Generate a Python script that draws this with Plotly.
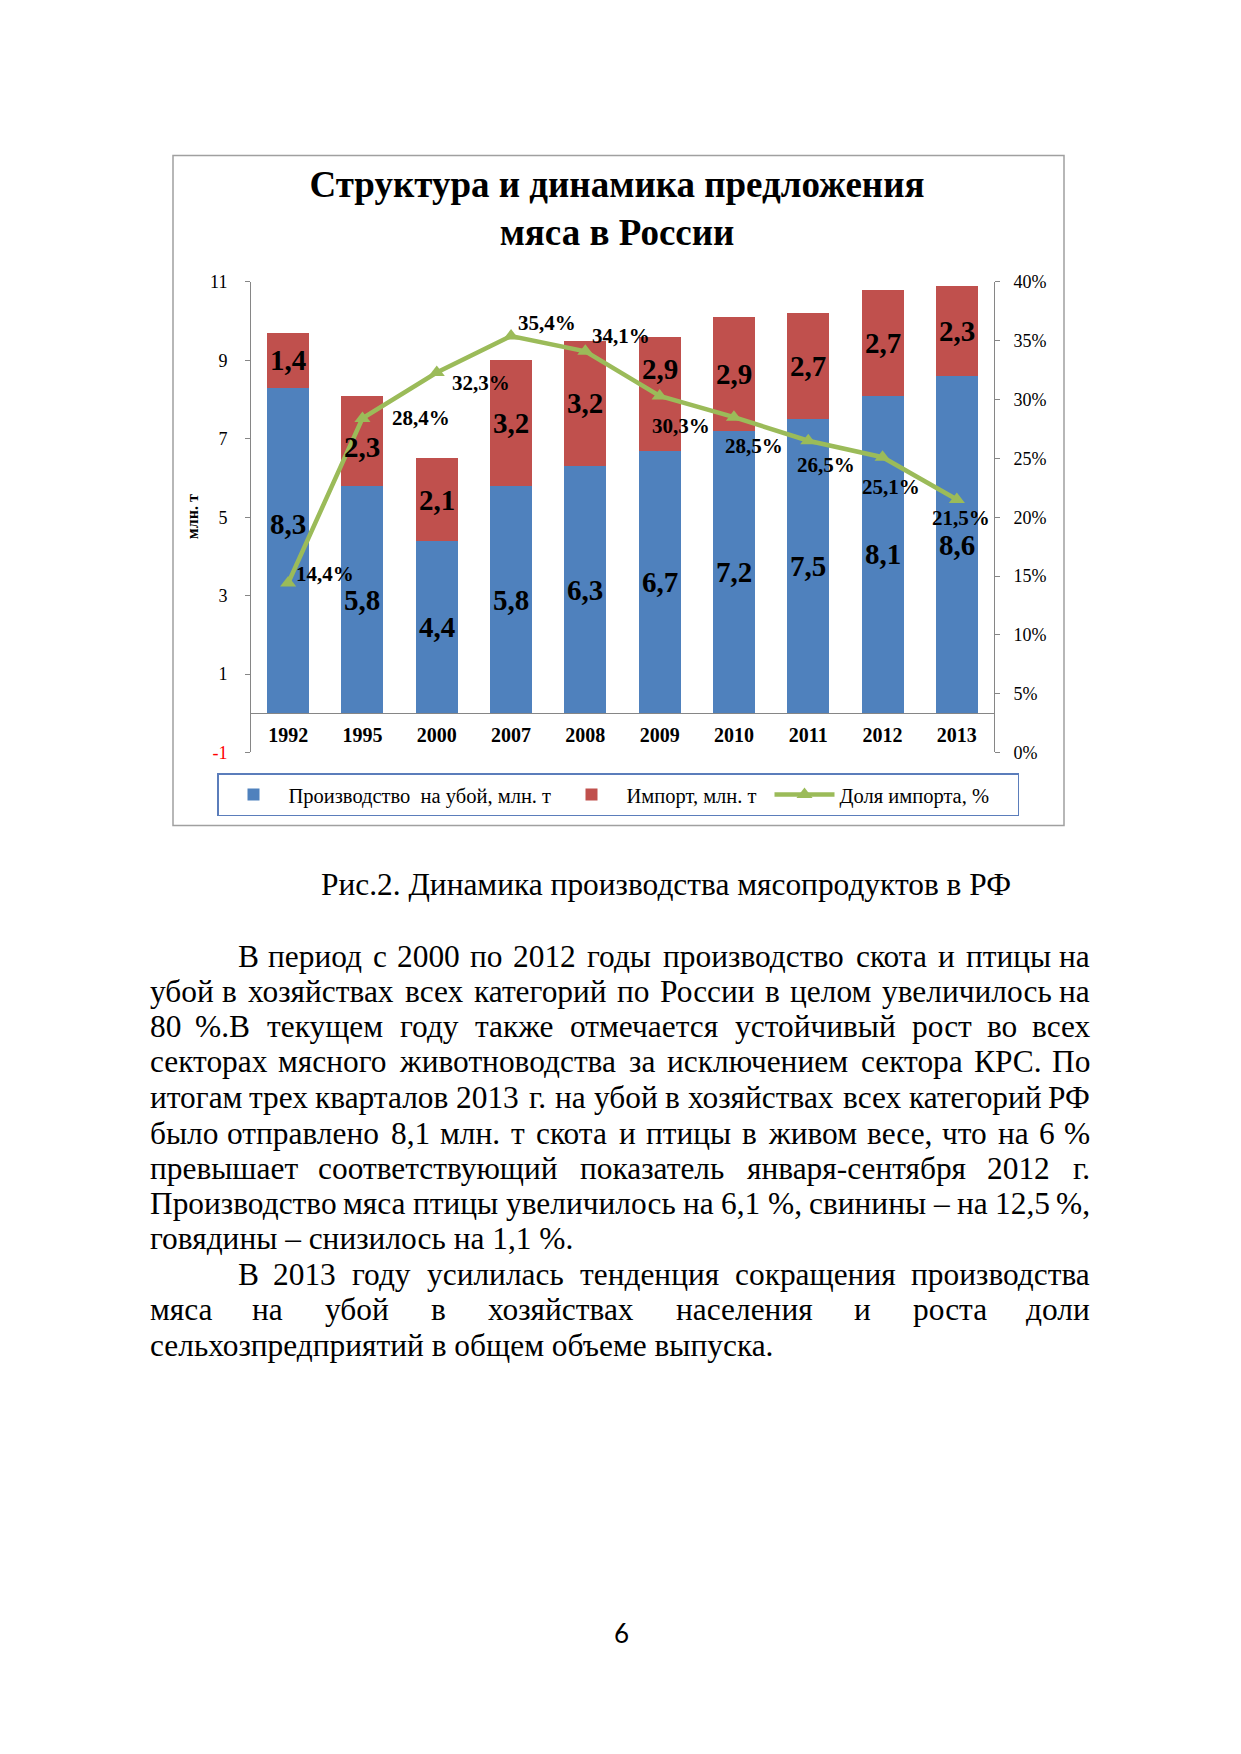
import plotly.graph_objects as go

# ---------------- data ----------------
years = ["1992", "1995", "2000", "2007", "2008", "2009", "2010", "2011", "2012", "2013"]
production = [8.3, 5.8, 4.4, 5.8, 6.3, 6.7, 7.2, 7.5, 8.1, 8.6]
imports = [1.4, 2.3, 2.1, 3.2, 3.2, 2.9, 2.9, 2.7, 2.7, 2.3]
import_share = [14.4, 28.4, 32.3, 35.4, 34.1, 30.3, 28.5, 26.5, 25.1, 21.5]
left_ticks = [-1, 1, 3, 5, 7, 9, 11]
right_ticks = [0, 5, 10, 15, 20, 25, 30, 35, 40]

series_names = ["Производство  на убой, млн. т", "Импорт, млн. т", "Доля импорта, %"]
chart_title = "Структура и динамика предложения<br>мяса в России"
y_title = "млн. т"
caption = "Рис.2. Динамика производства мясопродуктов в РФ"
body_lines = [
    "В период с 2000 по 2012 годы производство скота и птицы на",
    "убой в хозяйствах всех категорий по России в целом увеличилось на",
    "80 %.В текущем году также отмечается устойчивый рост во всех",
    "секторах мясного животноводства за исключением сектора КРС. По",
    "итогам трех кварталов 2013 г. на убой в хозяйствах всех категорий РФ",
    "было отправлено 8,1 млн. т скота и птицы в живом весе, что на 6 %",
    "превышает соответствующий показатель января-сентября 2012 г.",
    "Производство мяса птицы увеличилось на 6,1 %, свинины – на 12,5 %,",
    "говядины – снизилось на 1,1 %.",
    "В 2013 году усилилась тенденция сокращения производства",
    "мяса на убой в хозяйствах населения и роста доли",
    "сельхозпредприятий в общем объеме выпуска.",
]
page_number = "6"

# ---------------- layout / style ----------------
PAGE_W, PAGE_H = 1241, 1754
BODY_MARGIN = 8  # default browser body margin
FIG_W, FIG_H = PAGE_W - 2 * BODY_MARGIN, PAGE_H - 2 * BODY_MARGIN
SERIF = "Liberation Serif, Times New Roman, serif"
BLUE, RED, GREEN = "#4F81BD", "#C0504D", "#9BBB59"
AXIS_GRAY = "#868686"


def px(x):
    return (x - BODY_MARGIN) / FIG_W


def py(y):
    return 1 - (y - BODY_MARGIN) / FIG_H


# plot area in page pixels
PX0, PX1 = 251, 994
PY_TOP, PY_BOT = 275, 751
Y_MIN, Y_MAX = -1, 11
zero_pos = py(PY_BOT) + (py(PY_TOP) - py(PY_BOT)) * (0 - Y_MIN) / (Y_MAX - Y_MIN)


def fmt(v, suffix=""):
    return f"{v:.1f}".replace(".", ",") + suffix


fig = go.Figure()
fig.add_trace(go.Bar(x=years, y=production, name=series_names[0], marker=dict(color=BLUE, line=dict(width=0)),
                     legendwidth=263))
fig.add_trace(go.Bar(x=years, y=imports, name=series_names[1], marker=dict(color=RED, line=dict(width=0)),
                     legendwidth=138))
fig.add_trace(go.Scatter(
    x=years, y=import_share, name=series_names[2], yaxis="y2", mode="lines+markers",
    line=dict(color=GREEN, width=4.5),
    marker=dict(symbol="triangle-up", size=14, color=GREEN),
    legendwidth=173,
))

annotations = []

# bar value labels (centred in segments); x given as category index
prod_shift = [27, 0, 0, 0, 0, 0, 0, 0, 0, 0]
imp_shift = [0, -6, 0, 0, 0, 25, 0, 0, 0, 0]
bar_font = dict(family=SERIF, size=29, color="black")
for i in range(len(years)):
    annotations.append(dict(x=i, y=production[i] / 2, xref="x", yref="y", text="<b>" + fmt(production[i]) + "</b>",
                            showarrow=False, font=bar_font, yshift=prod_shift[i], xanchor="center", yanchor="middle"))
    annotations.append(dict(x=i, y=production[i] + imports[i] / 2, xref="x", yref="y",
                            text="<b>" + fmt(imports[i]) + "</b>", showarrow=False, font=bar_font,
                            yshift=imp_shift[i], xanchor="center", yanchor="middle"))

# share labels
share_dx = [37, 59, 44, 36, 36, 21, 20, 18, 8, 4]
share_dy = [9, 0, -10, 13, 15, -30, -29, -24, -30, -18]
for i in range(len(years)):
    annotations.append(dict(x=i, y=import_share[i], xref="x", yref="y2", text="<b>" + fmt(import_share[i], "%") + "</b>",
                            showarrow=False, font=dict(family=SERIF, size=21, color="black"),
                            xshift=share_dx[i], yshift=share_dy[i], xanchor="center", yanchor="middle"))

# y axis title
annotations.append(dict(x=px(192), y=py(513), xref="paper", yref="paper", text="<b>" + y_title + "</b>",
                        textangle=-90, showarrow=False, xanchor="center", yanchor="middle",
                        font=dict(family=SERIF, size=16, color="black")))

# ---------------- page text ----------------
CHAR_W = {
    " ": 250, ",": 250, ".": 250, "%": 833, "–": 500, "-": 333,
    "а": 444, "б": 508, "в": 472, "г": 410, "д": 509, "е": 444, "ё": 444, "ж": 691, "з": 395, "и": 535,
    "й": 535, "к": 486, "л": 499, "м": 633, "н": 535, "о": 500, "п": 535, "р": 500, "с": 444, "т": 437,
    "у": 500, "ф": 648, "х": 500, "ц": 535, "ч": 503, "ш": 770, "щ": 770, "ъ": 517, "ы": 672, "ь": 456,
    "э": 429, "ю": 747, "я": 460,
    "В": 667, "П": 722, "К": 667, "Р": 556, "С": 667, "Ф": 757, "Т": 611, "Д": 682, "А": 722,
}
BODY_SIZE = 31.4
body_font = dict(family=SERIF, size=BODY_SIZE, color="black")


def tw(s):
    return sum(CHAR_W.get(c, 500) for c in s) / 1000 * BODY_SIZE


def place_line(text, y, left, right, justify):
    if not justify:
        annotations.append(dict(x=px(left), y=py(y), xref="paper", yref="paper", text=text, showarrow=False,
                                xanchor="left", yanchor="middle", font=body_font))
        return
    words = text.split(" ")
    widths = [tw(w) for w in words]
    gap = (right - left - sum(widths)) / (len(words) - 1)
    x = left
    for k, (wd, wi) in enumerate(zip(words, widths)):
        if k == 0:
            ax, anch = x, "left"
        elif k == len(words) - 1:
            ax, anch = right, "right"
        else:
            ax, anch = x + wi / 2, "center"
        annotations.append(dict(x=px(ax), y=py(y), xref="paper", yref="paper", text=wd, showarrow=False,
                                xanchor=anch, yanchor="middle", font=body_font))
        x += wi + gap


LEFT, RIGHT, INDENT = 148, 1092, 236
line_y = [957, 993, 1028, 1064, 1100, 1136, 1172, 1207, 1243, 1279, 1315, 1351]
line_left = [INDENT, LEFT, LEFT, LEFT, LEFT, LEFT, LEFT, LEFT, LEFT, INDENT, LEFT, LEFT]
line_just = [True, True, True, True, True, True, True, True, False, True, True, False]
for t, yy, lx, j in zip(body_lines, line_y, line_left, line_just):
    place_line(t, yy, lx, RIGHT, j)

annotations.append(dict(x=px(319), y=py(885), xref="paper", yref="paper", text=caption, showarrow=False,
                        xanchor="left", yanchor="middle", font=body_font))
annotations.append(dict(x=px(621), y=py(1642), xref="paper", yref="paper", text=page_number, showarrow=False,
                        xanchor="center", yanchor="middle", font=dict(family="Lato, Open Sans, sans-serif", size=26,
                                                                       color="black")))

fig.update_layout(
    width=FIG_W, height=FIG_H,
    margin=dict(l=0, r=0, t=0, b=0),
    paper_bgcolor="white", plot_bgcolor="white",
    barmode="stack", bargap=0.435,
    showlegend=True,
    title=dict(text="<b>" + chart_title + "</b>", x=px(617), y=py(189), xanchor="center", yanchor="middle",
               xref="paper", yref="paper", font=dict(family=SERIF, size=37, color="black")),
    xaxis=dict(domain=[px(PX0), px(PX1)], type="category", anchor="free", position=zero_pos,
               range=[-0.5, len(years) - 0.5], autorange=False,
               showline=True, linecolor=AXIS_GRAY, linewidth=1, ticks="", showgrid=False, zeroline=False,
               tickfont=dict(family=SERIF, size=20, color="black"), ticklabelstandoff=4,
               tickvals=years, ticktext=["<b>" + y + "</b>" for y in years]),
    yaxis=dict(domain=[py(PY_BOT), py(PY_TOP)], range=[Y_MIN, Y_MAX], autorange=False, tickvals=left_ticks,
               ticktext=['<span style="color:red">-1</span>' if v < 0 else str(v) for v in left_ticks],
               ticks="outside", ticklen=5, tickcolor=AXIS_GRAY, showline=True, linecolor=AXIS_GRAY,
               showgrid=False, zeroline=False, tickfont=dict(family=SERIF, size=18, color="black"),
               ticklabelstandoff=14),
    yaxis2=dict(domain=[py(PY_BOT), py(PY_TOP)], overlaying="y", side="right", anchor="x", range=[0, 40],
                autorange=False, tickvals=right_ticks, ticktext=[f"{v}%" for v in right_ticks],
                ticks="outside", ticklen=5, tickcolor=AXIS_GRAY, showline=True, linecolor=AXIS_GRAY,
                showgrid=False, zeroline=False, tickfont=dict(family=SERIF, size=18, color="black"),
                ticklabelstandoff=10),
    legend=dict(orientation="h", x=px(217), y=py(772), xanchor="left", yanchor="top",
                bordercolor="#5B7DBB", borderwidth=1.5, bgcolor="white",
                font=dict(family=SERIF, size=20.5, color="black"), itemwidth=60, traceorder="normal"),
    annotations=annotations,
    shapes=[dict(type="rect", xref="paper", yref="paper", x0=px(173), x1=px(1064), y0=py(825), y1=py(147),
                 line=dict(color="#A0A0A0", width=1.5), layer="below")],
)

fig.write_html("out.html", config={"displayModeBar": False})
